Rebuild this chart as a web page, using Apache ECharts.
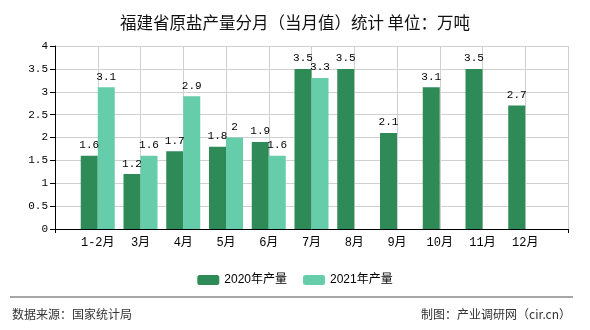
<!DOCTYPE html>
<html><head><meta charset="utf-8">
<script src="https://cdn.jsdelivr.net/npm/echarts@6/dist/echarts.min.js"></script>
<style>html,body{margin:0;padding:0;background:#fff}#c{width:590px;height:330px}</style>
</head><body><div id="c"></div>
<script>
var categories = ['', '1-2月', '3月', '4月', '5月', '6月', '7月', '8月', '9月', '10月', '11月', '12月', ''];
var values2020 = [null, 1.6, 1.2, 1.7, 1.8, 1.9, 3.5, 3.5, 2.1, 3.1, 3.5, 2.7, null];
var values2021 = [null, 3.1, 1.6, 2.9, 2, 1.6, 3.3, null, null, null, null, null, null];
var yTicks = {min: 0, max: 4, interval: 0.5};

var chart = echarts.init(document.getElementById('c'));
var monoFont = '"Liberation Mono", "Noto Sans CJK SC", monospace';
var labelStyle = {show: true, position: 'top', distance: 5, color: '#000', fontSize: 11, fontFamily: monoFont};
chart.setOption({
  animation: false,
  title: {
    text: '福建省原盐产量分月（当月值）统计 单位：万吨',
    left: 'center', top: 9,
    textStyle: {fontSize: 16.5, fontWeight: 'normal', color: '#111', fontFamily: '"Noto Sans CJK SC", sans-serif'}
  },
  legend: {
    top: 269, left: 'center', itemWidth: 22, itemHeight: 10, itemGap: 16,
    textStyle: {fontSize: 12, color: '#000', fontFamily: '"Liberation Sans", "Noto Sans CJK SC", sans-serif'},
    data: ['2020年产量', '2021年产量']
  },
  grid: {left: 55, right: 22, top: 46, bottom: 101, containLabel: false},
  xAxis: {
    type: 'category', data: categories, boundaryGap: false,
    axisLine: {lineStyle: {color: '#000', width: 1}},
    axisTick: {show: true, length: 4, interval: function (i) { return i === 0 || i === categories.length - 1; }, lineStyle: {color: '#000'}},
    axisLabel: {interval: 0, color: '#000', fontSize: 12, margin: 8, fontFamily: monoFont},
    splitLine: {show: true, interval: 0, lineStyle: {color: '#d0d0d0', width: 1}}
  },
  yAxis: {
    type: 'value', min: yTicks.min, max: yTicks.max, interval: yTicks.interval,
    axisLine: {show: true, lineStyle: {color: '#000', width: 1}},
    axisTick: {show: true, length: 5, lineStyle: {color: '#000'}},
    axisLabel: {color: '#000', fontSize: 11, margin: 7, fontFamily: monoFont},
    splitLine: {show: true, lineStyle: {color: '#d0d0d0', width: 1}}
  },
  series: [
    {name: '2020年产量', type: 'bar', data: values2020, barWidth: 17, barGap: '0%',
     itemStyle: {color: '#2e8b57'}, label: labelStyle},
    {name: '2021年产量', type: 'bar', data: values2021, barWidth: 17, barGap: '0%',
     itemStyle: {color: '#66cdaa'}, label: labelStyle}
  ],
  graphic: [
    {type: 'line', shape: {x1: 10, y1: 297, x2: 573, y2: 297}, style: {stroke: '#888', lineWidth: 1.5}},
    {type: 'text', left: 12, top: 308, style: {text: '数据来源：国家统计局', fontSize: 12, fill: '#333', fontFamily: '"Noto Sans CJK SC", sans-serif'}},
    {type: 'text', right: 19, top: 308, style: {text: '制图：产业调研网（cir.cn）', fontSize: 12, fill: '#333', fontFamily: '"Noto Sans CJK SC", sans-serif'}}
  ]
});
</script></body></html>
